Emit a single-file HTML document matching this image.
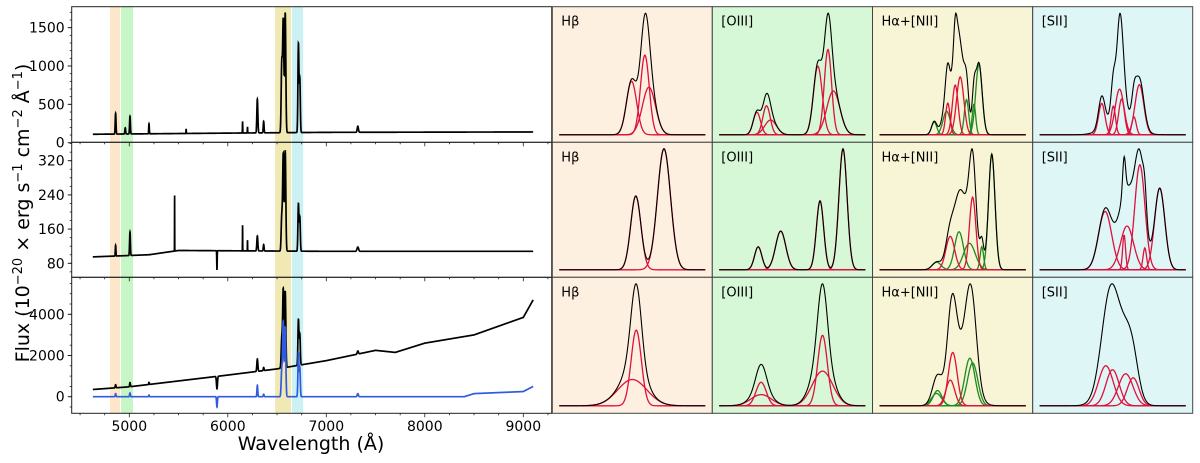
<!DOCTYPE html>
<html><head><meta charset="utf-8"><style>
html,body{margin:0;padding:0;background:#fff}
svg{display:block;font-family:"DejaVu Sans","Liberation Sans",sans-serif}
</style></head><body>
<svg id="fig" width="1200" height="463" viewBox="0 0 1200 463" xmlns="http://www.w3.org/2000/svg">
<text transform="translate(29,213) rotate(-90)" text-anchor="middle" font-size="19" fill="#000">Flux (10<tspan dy="-7" font-size="13">−20</tspan><tspan dy="7"> × erg s</tspan><tspan dy="-7" font-size="13">−1</tspan><tspan dy="7"> cm</tspan><tspan dy="-7" font-size="13">−2</tspan><tspan dy="7"> Å</tspan><tspan dy="-7" font-size="13">−1</tspan><tspan dy="7">)</tspan></text>
<text x="311" y="450" text-anchor="middle" font-size="19" fill="#000">Wavelength (Å)</text>
</svg>
<script>
// ---- data ----
const wlTicks = [5000, 6000, 7000, 8000, 9000];
const bands = [[4804, 4906, '#fde6c9'], [4916, 5038, '#c6f6c6'], [6480, 6642, '#f1e9b4'], [6652, 6765, '#cbf1f5']];
const p1Cont = [[4630, 110], [6000, 125], [7000, 135], [9100, 140]];
const p1Lines = [[4861, 270, 4], [4959, 80, 4], [5007, 230, 4], [5200, 130, 3], [5577, 60, 1.5], [6150, 150, 1.5], [6200, 80, 1.5], [6300, 440, 5], [6364, 150, 4], [6548, 900, 6], [6563, 1450, 6], [6583, 1560, 6], [6717, 1150, 5], [6731, 700, 5], [7320, 80, 6]];
const p1Ticks = [0, 500, 1000, 1500];
const p2Cont = [[4630, 95], [5200, 100], [5500, 110], [7000, 108], [9100, 108]];
const p2Lines = [[4861, 25, 3], [5007, 55, 4], [5460, 130, 0.8], [5890, -45, 2], [6150, 60, 1], [6200, 25, 1], [6300, 35, 5], [6364, 15, 4], [6548, 80, 6], [6563, 225, 6], [6583, 235, 6], [6717, 110, 5], [6731, 80, 5], [7320, 10, 8]];
const p2Ticks = [80, 160, 240, 320];
const p3Cont = [[4630, 350], [5000, 480], [6000, 1050], [6500, 1350], [7000, 1750], [7500, 2250], [7700, 2150], [8000, 2600], [8500, 3000], [9000, 3850], [9100, 4700]];
const p3Lines = [[4861, 150, 4], [5007, 200, 4], [5200, 100, 3], [5890, -600, 5], [6300, 600, 5], [6364, 150, 4], [6548, 1400, 6], [6563, 3800, 6], [6583, 3700, 6], [6717, 2200, 5], [6731, 1500, 5], [7320, 150, 6]];
const p3BlueCont = [[4630, 0], [8400, 0], [8500, 150], [9000, 250], [9100, 500]];
const p3BlueLines = [[4861, 150, 4], [5007, 180, 4], [5200, 80, 3], [5890, -500, 4], [6300, 550, 4], [6364, 120, 4], [6548, 1300, 6], [6563, 3600, 6], [6583, 3400, 6], [6717, 2100, 5], [6731, 1400, 5], [7320, 150, 6]];
const p3Ticks = [0, 2000, 4000];
// right panel component arrays: [center(0-1), amplitude, sigma]
const labels = ['Hβ', '[OIII]', 'Hα+[NII]', '[SII]'];
const hb1Red = [[0.495, 0.45, 0.035], [0.586, 0.67, 0.03], [0.614, 0.40, 0.045]];
const oiii1Red = [[0.257, 0.19, 0.025], [0.323, 0.245, 0.025], [0.351, 0.125, 0.04], [0.674, 0.58, 0.03], [0.743, 0.72, 0.025], [0.78, 0.37, 0.045]];
const ha1Red = [[0.467, 0.35, 0.015], [0.518, 0.55, 0.02], [0.552, 0.64, 0.025]];
const ha1Green = [[0.374, 0.14, 0.018], [0.459, 0.26, 0.025], [0.595, 0.39, 0.015], [0.646, 0.34, 0.012], [0.68, 0.78, 0.022]];
const ha1Extra = [[0.53, 0.3, 0.06], [0.518, 0.2, 0.01]];
const sii1Red = [[0.425, 0.35, 0.022], [0.504, 0.32, 0.015], [0.547, 0.51, 0.03], [0.561, 0.40, 0.02], [0.646, 0.20, 0.015], [0.683, 0.56, 0.03]];
const sii1Extra = [[0.55, 0.22, 0.09], [0.545, 0.3, 0.015]];
const hb2Red = [[0.524, 0.61, 0.035], [0.717, 1.0, 0.045]];
const oiii2Red = [[0.266, 0.19, 0.025], [0.42, 0.32, 0.035], [0.689, 0.57, 0.025], [0.846, 1.0, 0.028]];
const ha2Red = [[0.484, 0.29, 0.03], [0.637, 0.63, 0.022]];
const ha2Green = [[0.391, 0.066, 0.03], [0.544, 0.33, 0.03], [0.615, 0.23, 0.04], [0.70, 0.2, 0.012], [0.768, 1.0, 0.022]];
const ha2Extra = [[0.58, 0.32, 0.06]];
const sii2Red = [[0.448, 0.40, 0.045], [0.578, 0.24, 0.01], [0.598, 0.30, 0.045], [0.686, 0.72, 0.035], [0.72, 0.15, 0.012], [0.822, 0.56, 0.035]];
const sii2Extra = [[0.58, 0.25, 0.06]];
const hb3Red = [[0.527, 0.72, 0.035], [0.5, 0.25, 0.1]];
const hb3Extra = [[0.52, 0.2, 0.06]];
const oiii3Red = [[0.286, 0.21, 0.035], [0.286, 0.10, 0.07], [0.706, 0.63, 0.033], [0.706, 0.31, 0.07]];
const oiii3Extra = [[0.7, 0.15, 0.06], [0.29, 0.06, 0.05]];
const ha3Red = [[0.501, 0.56, 0.03], [0.484, 0.27, 0.03]];
const ha3Green = [[0.397, 0.16, 0.03], [0.39, 0.13, 0.035], [0.618, 0.5, 0.035], [0.637, 0.45, 0.035]];
const ha3Extra = [[0.56, 0.55, 0.07]];
const sii3Red = [[0.453, 0.40, 0.05], [0.499, 0.36, 0.045], [0.589, 0.32, 0.05], [0.64, 0.28, 0.04]];
const sii3Extra = [[0.52, 0.55, 0.08]];

// ---- geometry ----
const NS = 'http://www.w3.org/2000/svg';
const svg = document.getElementById('fig');
function mk(tag, attrs, parent) { const e = document.createElementNS(NS, tag); for (const k in attrs) e.setAttribute(k, attrs[k]); (parent || svg).appendChild(e); return e; }
const L = 71.7, R = 551.7;
const xW = w => 129.3 + (w - 5000) * 0.0985;
const rows = [
  { top: 6.7, bot: 142.3, y: v => 142.7 - v * 0.0767, ticks: p1Ticks, minor: 100, vmin: -5, vmax: 1773 },
  { top: 142.3, bot: 277.3, y: v => 263.3 - (v - 80) * 0.4275, ticks: p2Ticks, minor: 20, vmin: 47, vmax: 363 },
  { top: 277.3, bot: 413.3, y: v => 396.7 - v * 0.0206, ticks: p3Ticks, minor: 500, vmin: -806, vmax: 5796 }
];
function interp(knots, w) { for (let i = 0; i < knots.length - 1; i++) { if (w <= knots[i + 1][0]) { const t = (w - knots[i][0]) / (knots[i + 1][0] - knots[i][0]); return knots[i][1] + t * (knots[i + 1][1] - knots[i][1]); } } return knots[knots.length - 1][1]; }
function spec(cont, lines, w) { let v = interp(cont, w); for (const l of lines) { const d = (w - l[0]) / l[2]; if (Math.abs(d) < 6) v += l[1] * Math.exp(-d * d / 2); } return v; }

for (const b of bands) {
  const r = mk('rect', { x: xW(b[0]), y: 6.7, width: xW(b[1]) - xW(b[0]), height: 406.6, fill: b[2] });
  
  
}
const specData = [[p1Cont, p1Lines, '#000'], [p2Cont, p2Lines, '#000'], [p3Cont, p3Lines, '#000'], [p3BlueCont, p3BlueLines, '#2f5be0']];
const specRow = [0, 1, 2, 2];
specData.forEach((s, i) => {
  const row = rows[specRow[i]];
  let d = '';
  for (let w = 4630; w <= 9100; w += 0.5) d += (d ? 'L' : 'M') + xW(w).toFixed(2) + ',' + row.y(spec(s[0], s[1], w)).toFixed(2);
  const p = mk('path', { d: d, fill: 'none', stroke: s[2], 'stroke-width': 1.7 });
  
  
});
rows.forEach((row, ri) => {
  const fr = mk('rect', { x: L, y: row.top, width: R - L, height: row.bot - row.top, fill: 'none', stroke: '#222', 'stroke-width': 1 });
  
  
  for (let v = Math.ceil(row.vmin / row.minor) * row.minor; v <= row.vmax; v += row.minor) {
    const yy = row.y(v); if (yy < row.top + 1 || yy > row.bot - 1) continue;
    mk('line', { x1: L, x2: L - 2, y1: yy, y2: yy, stroke: '#222', 'stroke-width': 0.8 });
  }
  for (const t of row.ticks) {
    const yy = row.y(t);
    mk('line', { x1: L, x2: L - 4, y1: yy, y2: yy, stroke: '#222', 'stroke-width': 1 });
    const tx = mk('text', { x: L - 7, y: yy + 5, 'text-anchor': 'end', 'font-size': 14, fill: '#000' });
    tx.textContent = t;
    
    
  }
  for (let w = 4500; w <= 9250; w += 250) {
    const xx = xW(w); const major = w % 1000 === 0;
    mk('line', { x1: xx, x2: xx, y1: row.bot, y2: row.bot + (major ? 4 : 2), stroke: '#222', 'stroke-width': 0.8 });
  }
});
for (const t of wlTicks) {
  const tx = mk('text', { x: xW(t), y: 431, 'text-anchor': 'middle', 'font-size': 14, fill: '#000' });
  tx.textContent = t;
  
  
}
const colX = [552.3, 712.3, 872.5, 1032.7, 1192.7];
const rowY = [6.7, 142.3, 277.3, 413.3];
const bgs = ['#fdf0e0', '#d6f8d6', '#f8f4d6', '#dff6f7'];
const comps = [
  [[hb1Red, [], []], [oiii1Red, [], []], [ha1Red, ha1Green, ha1Extra], [sii1Red, [], sii1Extra]],
  [[hb2Red, [], []], [oiii2Red, [], []], [ha2Red, ha2Green, ha2Extra], [sii2Red, [], sii2Extra]],
  [[hb3Red, [], hb3Extra], [oiii3Red, [], oiii3Extra], [ha3Red, ha3Green, ha3Extra], [sii3Red, [], sii3Extra]]
];
const names = ['hbeta', 'oiii', 'halpha-nii', 'sii'];
for (let r = 0; r < 3; r++) for (let c = 0; c < 4; c++) {
  const x0 = colX[c], x1 = colX[c + 1], y0 = rowY[r], y1 = rowY[r + 1];
  const bg = mk('rect', { x: x0, y: y0, width: x1 - x0, height: y1 - y0, fill: bgs[c] });
  
  
  const px0 = x0 + 7, pw = x1 - x0 - 14, base = y1 - 7.5, top = y0 + 6.5;
  const [red, green, extra] = comps[r][c];
  const all = red.concat(green).concat(extra);
  const g = (cs, u) => { let v = 0; for (const k of cs) { const d = (u - k[0]) / k[2]; v += k[1] * Math.exp(-d * d / 2); } return v; };
  let mx = 0; for (let u = 0; u <= 1; u += 0.002) mx = Math.max(mx, g(all, u));
  const X = u => px0 + u * pw, Y = v => base - v / mx * (base - top);
  const drawComp = (k, col, nm) => {
    let d = ''; for (let u = 0; u <= 1.0001; u += 0.004) d += (d ? 'L' : 'M') + X(u).toFixed(2) + ',' + Y(g([k], u)).toFixed(2);
    const p = mk('path', { d: d, fill: 'none', stroke: col, 'stroke-width': 1.3 });
    
    
  };
  green.forEach(k => drawComp(k, '#1e8a1e', 'green-component'));
  red.forEach(k => drawComp(k, '#e0103c', 'red-component'));
  let d = ''; for (let u = 0; u <= 1.0001; u += 0.003) d += (d ? 'L' : 'M') + X(u).toFixed(2) + ',' + Y(g(all, u)).toFixed(2);
  const p = mk('path', { d: d, fill: 'none', stroke: '#000', 'stroke-width': 1.1 });
  
  
  const t = mk('text', { x: x0 + 9, y: y0 + 19, 'font-size': 13, fill: '#000' });
  t.textContent = labels[c];
  
  
  const fr = mk('rect', { x: x0, y: y0, width: x1 - x0, height: y1 - y0, fill: 'none', stroke: '#444', 'stroke-width': 1 });
  
  
}
</script>
</body></html>
